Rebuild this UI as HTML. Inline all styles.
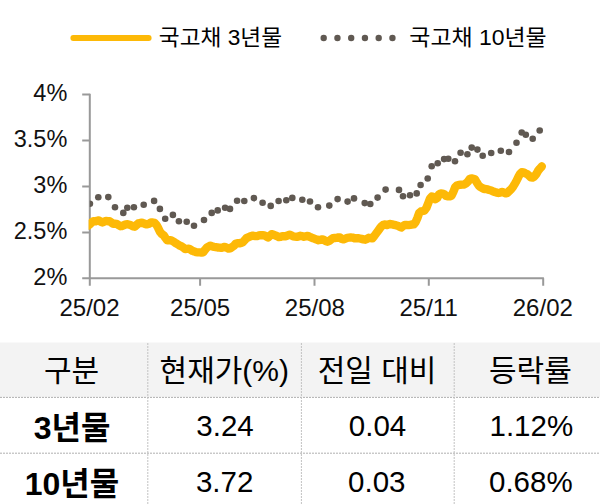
<!DOCTYPE html>
<html><head><meta charset="utf-8"><title>chart</title>
<style>html,body{margin:0;padding:0;background:#fff;font-family:"Liberation Sans",sans-serif}svg{display:block}</style>
</head><body><svg width="600" height="504" viewBox="0 0 600 504" role="img" aria-label="국고채 3년물 / 국고채 10년물 금리 추이"><title>국고채 3년물, 국고채 10년물 금리 (25/02 ~ 26/02) — 구분 / 현재가(%) / 전일 대비 / 등락률 : 3년물 3.24 0.04 1.12%, 10년물 3.72 0.03 0.68%</title><rect width="600" height="504" fill="#fff"/>
<rect x="0" y="342.5" width="600" height="54.7" fill="#f3f3f3"/>
<path d="M0 397.4H600" stroke="#a6a6a6" stroke-width="0.9" stroke-dasharray="2 1" fill="none"/>
<path d="M0 453.2H600" stroke="#a6a6a6" stroke-width="0.9" stroke-dasharray="2 1" fill="none"/>
<path d="M147.8 343V504" stroke="#c2c2c2" stroke-width="1" stroke-dasharray="2 1" fill="none"/>
<path d="M301.4 343V504" stroke="#c2c2c2" stroke-width="1" stroke-dasharray="2 1" fill="none"/>
<path d="M454.2 343V504" stroke="#c2c2c2" stroke-width="1" stroke-dasharray="2 1" fill="none"/>
<line x1="73.3" y1="38" x2="148.7" y2="38" stroke="#FDB907" stroke-width="5.8" stroke-linecap="round"/>
<circle cx="323.70" cy="38" r="3.2" fill="#605952"/>
<circle cx="337.45" cy="38" r="3.2" fill="#605952"/>
<circle cx="351.20" cy="38" r="3.2" fill="#605952"/>
<circle cx="364.95" cy="38" r="3.2" fill="#605952"/>
<circle cx="378.70" cy="38" r="3.2" fill="#605952"/>
<circle cx="392.45" cy="38" r="3.2" fill="#605952"/>
<text x="158.8" y="45" font-size="21.5" fill="#000" textLength="123.2" lengthAdjust="spacingAndGlyphs" font-family='"Liberation Sans","Noto Sans CJK KR",sans-serif'>국고채 3년물</text>
<text x="409.3" y="45" font-size="21.5" fill="#000" textLength="137.4" lengthAdjust="spacingAndGlyphs" font-family='"Liberation Sans","Noto Sans CJK KR",sans-serif'>국고채 10년물</text>
<path d="M89.8 93.85V285.7M82.2 278.3H543.9" stroke="#999" stroke-width="2" fill="none"/>
<path d="M82.2 94.60H89.8M82.2 140.53H89.8M82.2 186.45H89.8M82.2 232.38H89.8M200.1 278.3V285.7M314.5 278.3V285.7M428.8 278.3V285.7M543.2 278.3V285.7" stroke="#999" stroke-width="2" fill="none"/>
<g font-family='"Liberation Sans",sans-serif' font-size="23.5" fill="#111" text-anchor="end">
<text x="67.3" y="101.1">4%</text>
<text x="67.3" y="146.7">3.5%</text>
<text x="67.3" y="192.6">3%</text>
<text x="67.3" y="238.5">2.5%</text>
<text x="67.3" y="284.8">2%</text>
</g>
<g font-family='"Liberation Sans",sans-serif' font-size="24" fill="#111" text-anchor="middle">
<text x="89.5" y="316.2">25/02</text>
<text x="200.1" y="316.2">25/05</text>
<text x="314.9" y="316.2">25/08</text>
<text x="428.6" y="316.2">25/11</text>
<text x="542.8" y="316.2">26/02</text>
</g>
<clipPath id="cpo"><rect x="88.6" y="80" width="470" height="200"/></clipPath><clipPath id="cpd"><rect x="89.8" y="80" width="470" height="200"/></clipPath>
<polyline clip-path="url(#cpo)" points="88.0,225.8 89.8,224.3 91.6,222.5 93.4,221.2 95.2,221.4 97.0,220.8 98.8,220.4 100.6,221.7 102.4,222.5 104.2,221.7 106.0,221.0 107.8,221.2 109.6,221.3 111.4,222.5 113.2,223.8 115.0,223.8 116.8,223.9 118.6,225.2 120.4,226.2 122.2,226.0 124.0,225.2 125.8,224.4 127.6,224.2 129.4,224.7 131.2,225.4 133.0,226.4 134.8,226.7 136.6,225.0 138.4,223.4 140.2,223.0 142.0,222.7 143.8,223.4 145.6,224.2 147.4,224.2 149.2,223.7 151.0,222.4 152.8,222.5 154.6,222.9 156.4,224.8 158.2,228.1 160.0,231.8 161.8,234.0 163.6,235.2 165.4,237.9 167.2,240.4 169.0,240.3 170.8,240.2 172.6,241.2 174.4,242.2 176.2,243.4 178.0,244.5 179.8,245.6 181.6,246.4 183.4,247.7 185.2,249.0 187.0,248.8 188.8,248.6 190.6,249.7 192.4,250.8 194.2,251.4 196.0,252.1 197.8,252.4 199.6,252.4 201.4,252.6 203.2,252.3 205.0,249.8 206.8,247.6 208.6,246.5 210.4,245.7 212.2,246.4 214.0,246.8 215.8,247.1 217.6,247.5 219.4,247.6 221.2,247.8 223.0,247.4 224.8,246.9 226.6,247.6 228.4,248.6 230.2,248.3 232.0,247.2 233.8,245.9 235.6,243.8 237.4,243.2 239.2,243.4 241.0,242.9 242.8,242.3 244.6,240.3 246.4,238.1 248.2,237.3 250.0,236.5 251.8,235.8 253.6,235.8 255.4,236.1 257.2,236.1 259.0,235.4 260.8,235.1 262.6,235.2 264.4,235.4 266.2,236.4 268.0,237.5 269.8,235.9 271.6,234.2 273.4,234.6 275.2,235.3 277.0,236.1 278.8,237.1 280.6,236.9 282.4,236.2 284.2,236.2 286.0,236.2 287.8,235.4 289.6,234.7 291.4,235.4 293.2,236.4 295.0,236.7 296.8,236.9 298.6,236.4 300.4,235.8 302.2,236.1 304.0,236.8 305.8,236.3 307.6,235.9 309.4,236.7 311.2,237.6 313.0,238.2 314.8,238.9 316.6,239.6 318.4,240.2 320.2,239.8 322.0,239.4 323.8,239.9 325.6,241.0 327.4,241.7 329.2,240.9 331.0,239.4 332.8,238.2 334.6,238.0 336.4,237.8 338.2,237.5 340.0,237.4 341.8,238.9 343.6,239.3 345.4,238.6 347.2,237.9 349.0,237.7 350.8,237.5 352.6,237.6 354.4,238.2 356.2,238.3 358.0,238.1 359.8,238.5 361.6,238.9 363.4,239.4 365.2,239.7 367.0,238.9 368.8,237.8 370.6,238.0 372.4,238.3 374.2,236.1 376.0,233.6 377.8,231.2 379.6,228.7 381.4,226.4 383.2,224.8 385.0,224.5 386.8,225.1 388.6,224.3 390.4,224.0 392.2,224.4 394.0,224.8 395.8,225.2 397.6,225.7 399.4,226.7 401.2,227.5 403.0,226.2 404.8,224.9 406.6,225.0 408.4,225.1 410.2,224.8 412.0,224.5 413.8,224.4 415.6,222.1 417.4,218.0 419.2,212.9 421.0,211.4 422.8,211.0 424.6,210.4 426.4,207.9 428.2,203.3 430.0,198.5 431.8,196.5 433.6,197.1 435.4,199.1 437.2,198.0 439.0,194.4 440.8,193.4 442.6,193.6 444.4,194.4 446.2,196.0 448.0,196.4 449.8,196.4 451.6,195.6 453.4,191.7 455.2,187.1 457.0,185.5 458.8,184.9 460.6,184.7 462.4,184.6 464.2,184.5 466.0,183.4 467.8,181.7 469.6,179.2 471.4,178.4 473.2,178.9 475.0,179.4 476.8,182.5 478.6,185.4 480.4,186.9 482.2,188.1 484.0,189.0 485.8,189.0 487.6,189.4 489.4,190.0 491.2,190.5 493.0,191.3 494.8,192.0 496.6,192.6 498.4,193.0 500.2,192.6 502.0,191.9 503.8,192.7 505.6,193.4 507.4,192.9 509.2,191.0 511.0,189.4 512.8,187.2 514.6,184.2 516.4,181.0 518.2,177.3 520.0,173.9 521.8,172.1 523.6,172.3 525.4,173.4 527.2,174.1 529.0,175.7 530.8,177.3 532.6,177.5 534.4,176.5 536.2,174.2 538.0,170.9 539.8,168.6 541.6,166.8 541.8,166.3" fill="none" stroke="#FDB907" stroke-width="8.4" stroke-linejoin="round" stroke-linecap="round"/>
<g clip-path="url(#cpd)"><circle cx="89.9" cy="203.7" r="3.3" fill="#605952"/><circle cx="98.3" cy="197.3" r="3.3" fill="#605952"/><circle cx="108.3" cy="197.1" r="3.3" fill="#605952"/><circle cx="115" cy="207.3" r="3.3" fill="#605952"/><circle cx="123.3" cy="212.9" r="3.3" fill="#605952"/><circle cx="127.3" cy="207.7" r="3.3" fill="#605952"/><circle cx="133.9" cy="207.3" r="3.3" fill="#605952"/><circle cx="143.7" cy="204.7" r="3.3" fill="#605952"/><circle cx="154.1" cy="200.9" r="3.3" fill="#605952"/><circle cx="159.9" cy="208.9" r="3.3" fill="#605952"/><circle cx="165.2" cy="218.7" r="3.3" fill="#605952"/><circle cx="172.9" cy="214.9" r="3.3" fill="#605952"/><circle cx="178.9" cy="221.3" r="3.3" fill="#605952"/><circle cx="186.7" cy="221.7" r="3.3" fill="#605952"/><circle cx="194" cy="225.7" r="3.3" fill="#605952"/><circle cx="204" cy="220" r="3.3" fill="#605952"/><circle cx="211.7" cy="212.9" r="3.3" fill="#605952"/><circle cx="217.7" cy="210.4" r="3.3" fill="#605952"/><circle cx="225.1" cy="207.7" r="3.3" fill="#605952"/><circle cx="230" cy="208.9" r="3.3" fill="#605952"/><circle cx="237.1" cy="200.7" r="3.3" fill="#605952"/><circle cx="244.3" cy="201" r="3.3" fill="#605952"/><circle cx="253.9" cy="198.1" r="3.3" fill="#605952"/><circle cx="262.6" cy="202.7" r="3.3" fill="#605952"/><circle cx="270.7" cy="205.9" r="3.3" fill="#605952"/><circle cx="278.6" cy="201" r="3.3" fill="#605952"/><circle cx="286.3" cy="200.3" r="3.3" fill="#605952"/><circle cx="292.3" cy="197.9" r="3.3" fill="#605952"/><circle cx="302.3" cy="199.7" r="3.3" fill="#605952"/><circle cx="310" cy="201.5" r="3.3" fill="#605952"/><circle cx="318" cy="207.3" r="3.3" fill="#605952"/><circle cx="329.3" cy="205.6" r="3.3" fill="#605952"/><circle cx="337.6" cy="199.1" r="3.3" fill="#605952"/><circle cx="347.6" cy="201.6" r="3.3" fill="#605952"/><circle cx="354" cy="198.4" r="3.3" fill="#605952"/><circle cx="364.7" cy="203.1" r="3.3" fill="#605952"/><circle cx="370.3" cy="204" r="3.3" fill="#605952"/><circle cx="377.6" cy="197.6" r="3.3" fill="#605952"/><circle cx="385.6" cy="189.6" r="3.3" fill="#605952"/><circle cx="399" cy="189.9" r="3.3" fill="#605952"/><circle cx="403" cy="196.3" r="3.3" fill="#605952"/><circle cx="410" cy="195.3" r="3.3" fill="#605952"/><circle cx="416.7" cy="193.4" r="3.3" fill="#605952"/><circle cx="420.6" cy="185" r="3.3" fill="#605952"/><circle cx="427.7" cy="178.5" r="3.3" fill="#605952"/><circle cx="431.7" cy="166.3" r="3.3" fill="#605952"/><circle cx="437.7" cy="163.3" r="3.3" fill="#605952"/><circle cx="444.1" cy="159.1" r="3.3" fill="#605952"/><circle cx="448.3" cy="158.7" r="3.3" fill="#605952"/><circle cx="455" cy="161.3" r="3.3" fill="#605952"/><circle cx="460.6" cy="152.7" r="3.3" fill="#605952"/><circle cx="467.4" cy="154.3" r="3.3" fill="#605952"/><circle cx="471.7" cy="147.6" r="3.3" fill="#605952"/><circle cx="477.4" cy="149.6" r="3.3" fill="#605952"/><circle cx="482.7" cy="155.7" r="3.3" fill="#605952"/><circle cx="491.2" cy="153" r="3.3" fill="#605952"/><circle cx="500.8" cy="150.8" r="3.3" fill="#605952"/><circle cx="509" cy="152" r="3.3" fill="#605952"/><circle cx="516.5" cy="142.8" r="3.3" fill="#605952"/><circle cx="521.7" cy="132.5" r="3.3" fill="#605952"/><circle cx="525.8" cy="134.7" r="3.3" fill="#605952"/><circle cx="532.7" cy="138.8" r="3.3" fill="#605952"/><circle cx="539.7" cy="130.5" r="3.3" fill="#605952"/></g>
<g font-family='"Liberation Sans","Noto Sans CJK KR",sans-serif' font-size="30" fill="#000" text-anchor="middle">
<text x="71.6" y="381">구분</text>
<text x="224.3" y="381">현재가(%)</text>
<text x="377" y="381">전일 대비</text>
<text x="530.4" y="381">등락률</text>
</g>
<g font-family='"Liberation Sans","Noto Sans CJK KR",sans-serif' font-size="32" font-weight="bold" fill="#000" text-anchor="middle">
<text x="72" y="438.5">3년물</text>
<text x="72" y="494.9">10년물</text>
</g>
<g font-family='"Liberation Sans",sans-serif' font-size="29.5" fill="#000" text-anchor="middle">
<text x="225" y="436.2">3.24</text>
<text x="377.5" y="436.2">0.04</text>
<text x="531.3" y="436.2">1.12%</text>
<text x="224.6" y="492.2">3.72</text>
<text x="376.8" y="492.2">0.03</text>
<text x="530.8" y="492.2">0.68%</text>
</g>
</svg></body></html>
